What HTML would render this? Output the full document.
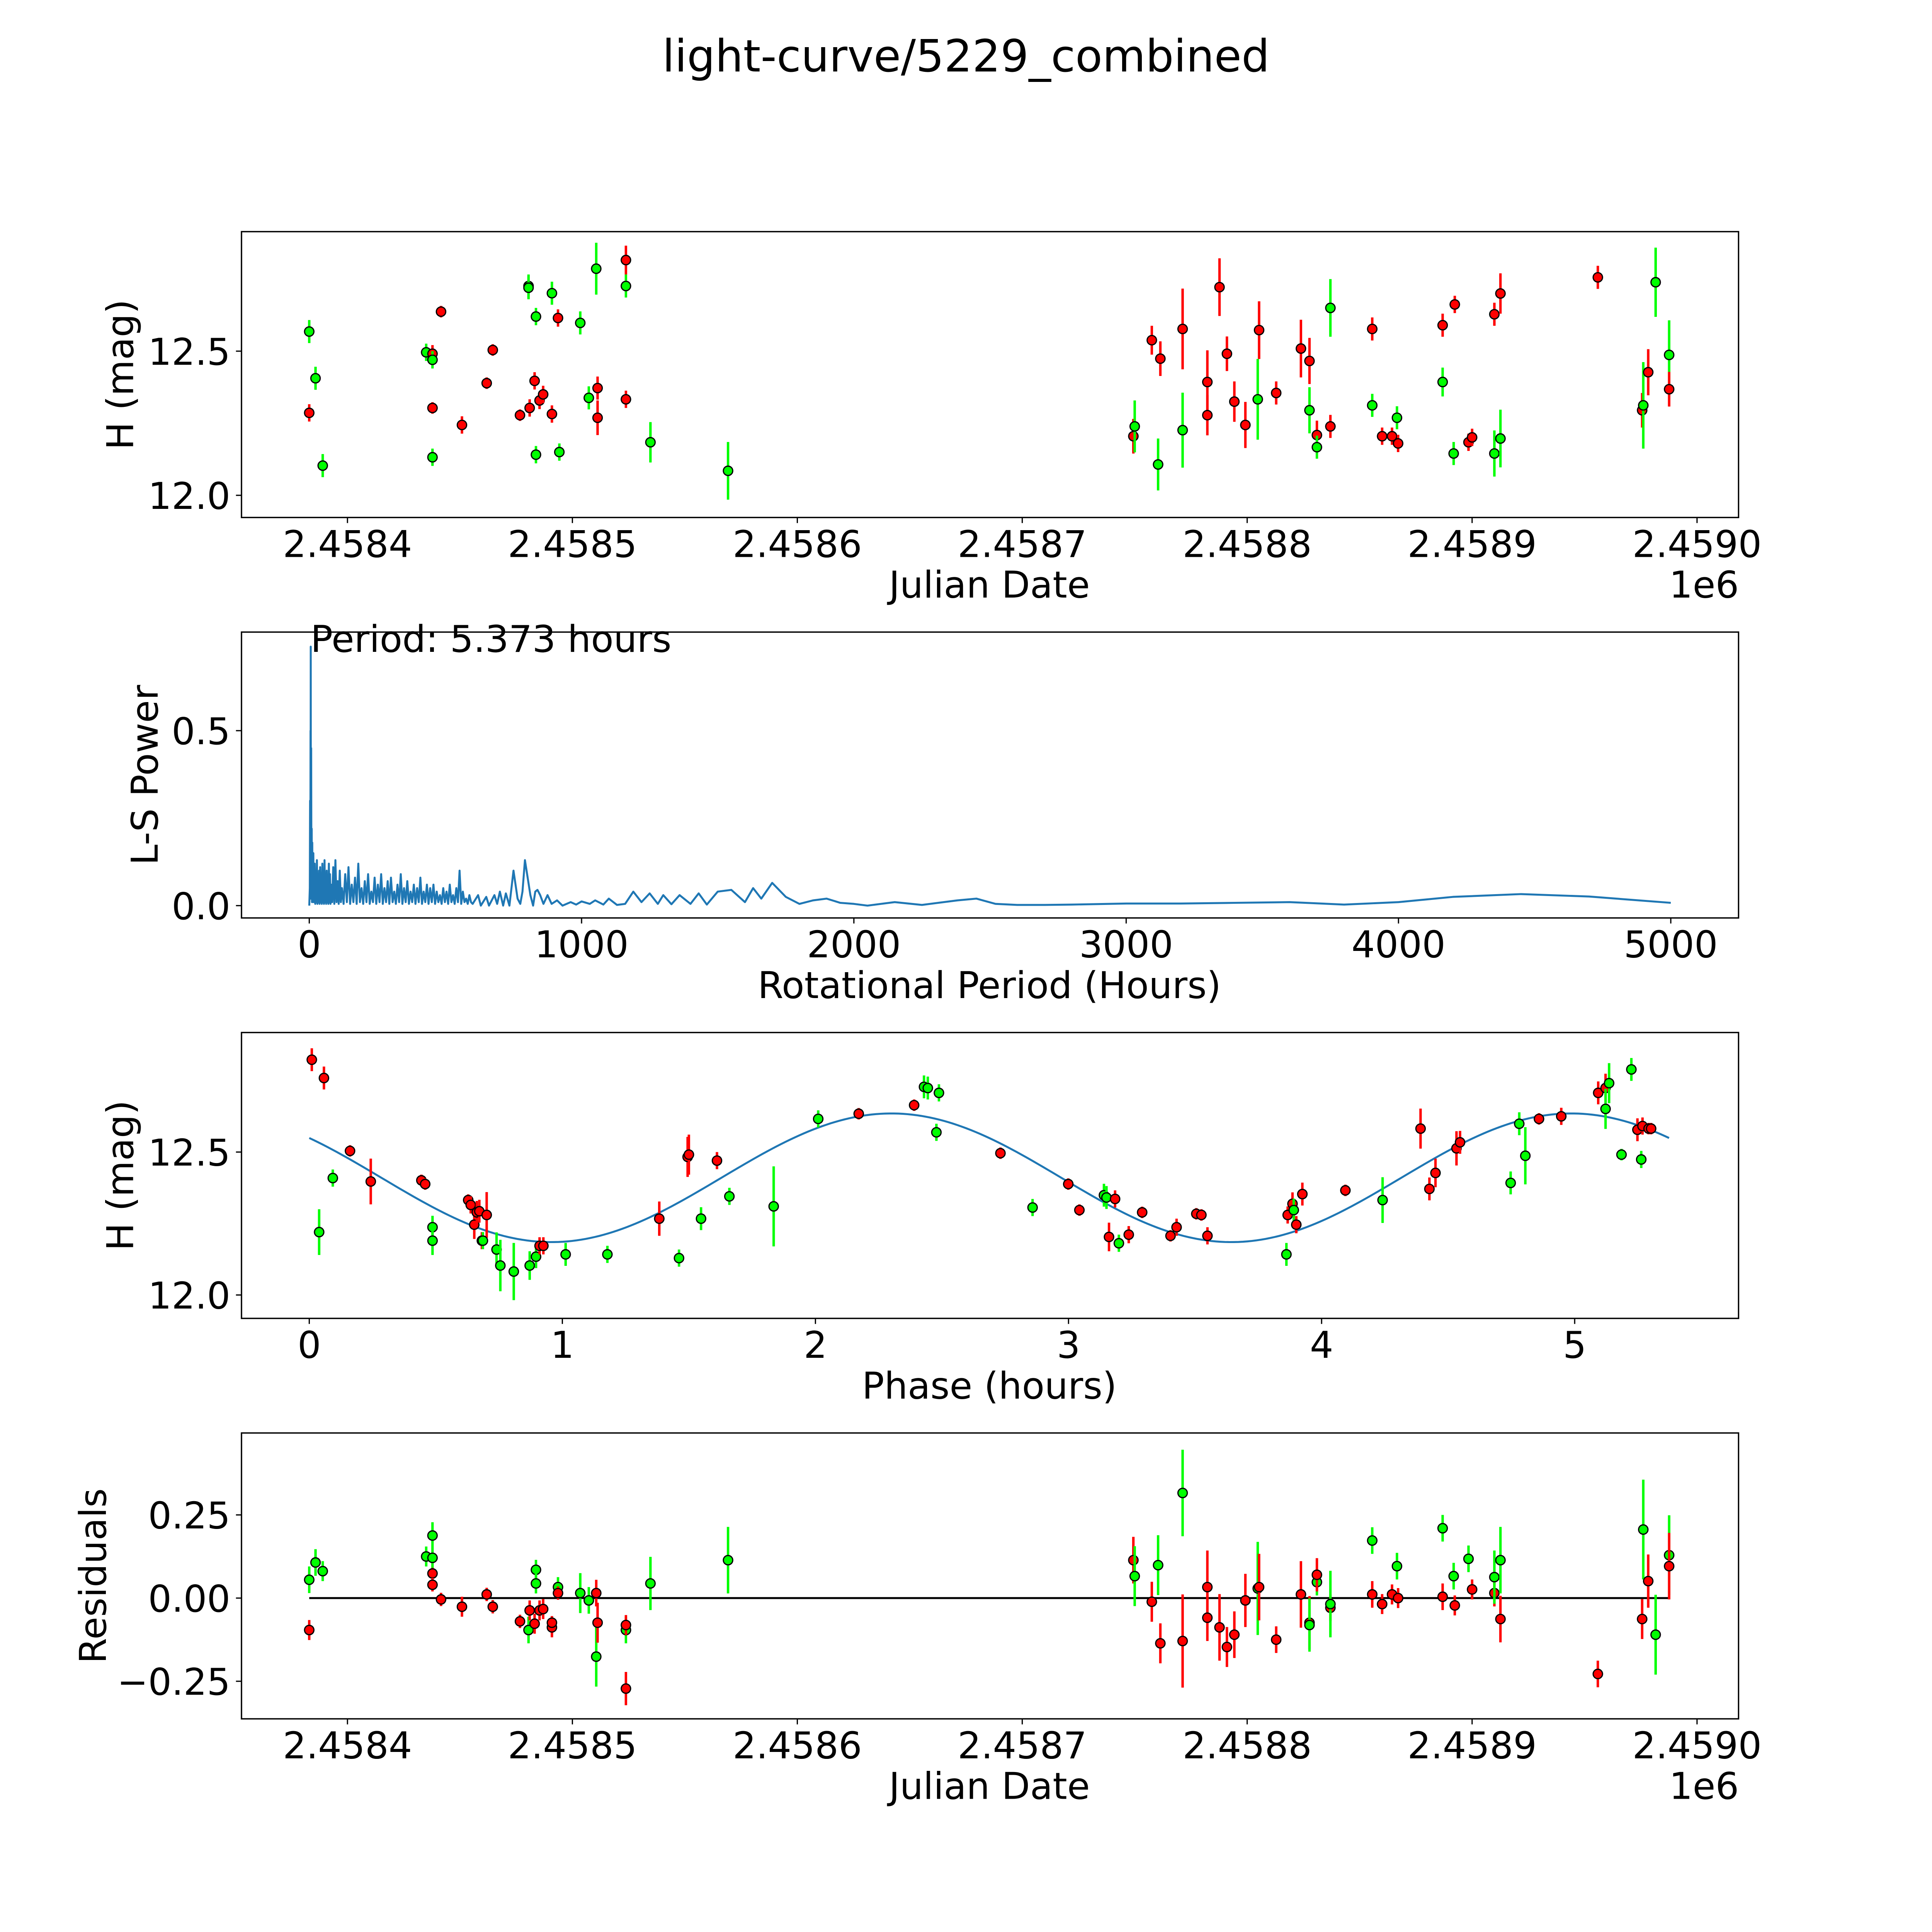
<!DOCTYPE html>
<html><head><meta charset="utf-8">
<style>
html,body{margin:0;padding:0;background:#fff;overflow:hidden;width:100%;height:100%;}
svg{display:block;position:absolute;left:0;top:0;width:100vw;height:100vh;}
text{font-family:"DejaVu Sans","Liberation Sans",sans-serif;fill:#000;}
</style></head>
<body>
<svg id="fig" viewBox="0 0 1568 1568" preserveAspectRatio="none" xmlns="http://www.w3.org/2000/svg">
<rect x="0" y="0" width="1568" height="1568" fill="#fff"/>
<text x="784" y="58" font-size="36" text-anchor="middle">light-curve/5229_combined</text>
</svg>
<script>
// ---------- Panel 1: light curve (JD - 2458400 in days) ----------
const lcDays=[-17,-17,-14.2,-11,35,37.8,37.8,37.8,37.8,41.6,50.9,61.9,64.6,76.7,80.5,80.5,81,83.2,83.8,83.8,85.4,87,90.9,90.9,93.6,94.2,103.5,107.3,110.6,111.2,111.2,123.8,123.8,123.8,134.7,169.2,349.4,350,357.6,360.4,361.4,371.3,371.3,382.3,382.3,387.7,391,394.3,399.2,404.7,405.3,412.9,423.9,427.7,427.7,431,431,437,437,455.6,455.6,460,464.4,466.6,467.1,486.9,486.9,491.8,492.3,498.4,500,509.9,509.9,512.6,512.6,555.9,575.6,576.1,578.3,581.6,587.6,587.6];
const lcMag=[12.568,12.286,12.406,12.103,12.496,12.303,12.491,12.47,12.132,12.637,12.244,12.389,12.504,12.278,12.726,12.72,12.303,12.397,12.62,12.141,12.329,12.35,12.701,12.282,12.615,12.15,12.598,12.338,12.786,12.372,12.269,12.816,12.726,12.333,12.184,12.085,12.205,12.239,12.538,12.107,12.474,12.577,12.226,12.393,12.278,12.722,12.491,12.325,12.244,12.333,12.573,12.355,12.509,12.466,12.295,12.209,12.167,12.239,12.65,12.577,12.312,12.205,12.205,12.269,12.18,12.59,12.393,12.145,12.662,12.184,12.201,12.628,12.145,12.7,12.197,12.756,12.295,12.312,12.427,12.739,12.487,12.368];
const lcErr=[0.04,0.03,0.04,0.04,0.03,0.02,0.03,0.03,0.03,0.02,0.03,0.02,0.02,0.02,0.04,0.04,0.03,0.03,0.03,0.03,0.03,0.03,0.04,0.03,0.03,0.03,0.04,0.04,0.09,0.04,0.06,0.05,0.04,0.03,0.07,0.1,0.06,0.09,0.05,0.09,0.06,0.14,0.13,0.11,0.07,0.1,0.06,0.07,0.08,0.14,0.1,0.04,0.1,0.08,0.08,0.05,0.04,0.04,0.1,0.04,0.04,0.03,0.03,0.04,0.03,0.04,0.05,0.04,0.03,0.03,0.03,0.04,0.08,0.07,0.1,0.04,0.06,0.15,0.08,0.12,0.12,0.06];
const lcBand=["g","r","g","g","g","r","r","g","g","r","r","r","r","r","g","g","r","r","g","g","r","r","g","r","r","g","g","g","g","r","r","r","g","r","g","g","r","g","r","g","r","r","g","r","r","r","r","r","r","g","r","r","r","r","g","r","g","r","g","r","g","r","r","g","r","r","g","g","r","r","r","r","g","r","g","r","r","g","r","g","g","r"];

// ---------- Panel 2: periodogram ----------
const lsPeriod=[0,2,3,4,4.6,5,5.373,5.8,6.5,7,8,9,10,11,12,13,14,15,16,17,18,20,22,24,26,28,30,32,34,36,38,40,42,44,46,48,50,52,54,56,58,60,62,64,66,68,70,72,74,76,78,80,84,88,92,96,100,104,108,112,116,120,126,132,138,144,150,156,162,168,174,180,186,192,198,204,210,216,222,228,234,240,246,252,258,264,270,276,282,288,294,300,306,312,318,324,330,336,342,348,354,360,366,372,378,384,390,396,402,408,414,420,426,432,438,444,450,456,462,468,474,480,486,492,498,504,510,516,522,528,534,540,546,552,558,564,570,576,582,588,594,600,620,630,650,660,680,690,700,712,722,735,750,765,775,783,792,800,812,822,830,838,848,860,875,890,910,930,960,980,1000,1030,1050,1080,1100,1130,1160,1190,1220,1250,1280,1300,1330,1360,1400,1430,1460,1500,1550,1600,1630,1660,1700,1750,1800,1850,1900,1950,2000,2050,2150,2250,2380,2450,2520,2600,2700,2800,3000,3200,3400,3600,3800,4000,4200,4450,4700,5000];
const lsPower=[0,0.05,0.3,0.02,0.5,0.1,0.74,0.2,0.02,0.45,0.03,0.22,0.01,0.18,0.02,0.12,0.01,0.15,0.02,0.1,0.01,0.12,0.005,0.09,0.01,0.13,0.005,0.07,0.01,0.1,0.005,0.11,0.01,0.06,0.005,0.12,0.01,0.08,0.005,0.13,0.01,0.07,0.005,0.1,0.01,0.05,0.005,0.12,0.01,0.09,0.005,0.06,0.01,0.11,0.005,0.13,0.01,0.07,0.005,0.1,0.01,0.05,0.005,0.09,0.01,0.11,0.005,0.06,0.01,0.08,0.005,0.12,0.01,0.05,0.005,0.07,0.01,0.09,0.005,0.04,0.01,0.08,0.005,0.06,0.01,0.09,0.005,0.05,0.01,0.07,0.005,0.08,0.01,0.04,0.005,0.06,0.01,0.09,0.005,0.05,0.01,0.07,0.005,0.04,0.01,0.06,0.005,0.05,0.01,0.08,0.005,0.04,0.01,0.06,0.005,0.05,0.01,0.06,0.005,0.04,0.01,0.03,0.005,0.05,0.01,0.04,0.005,0.06,0.01,0.03,0.005,0.05,0.01,0.1,0.005,0.04,0.01,0.02,0.005,0.03,0.01,0.005,0.03,0,0.025,0,0.03,0.005,0.04,0,0.035,0,0.1,0.02,0.005,0.04,0.13,0.09,0.03,0.0,0.04,0.045,0.03,0.005,0.03,0.005,0.015,0,0.01,0.003,0.012,0.005,0.015,0.003,0.02,0.002,0.005,0.04,0.01,0.035,0.005,0.03,0.004,0.03,0.005,0.035,0.003,0.04,0.045,0.01,0.05,0.02,0.065,0.025,0.005,0.015,0.02,0.008,0.005,0.0,0.01,0.002,0.015,0.02,0.005,0.002,0.002,0.003,0.006,0.006,0.008,0.01,0.003,0.01,0.025,0.033,0.026,0.008];
const lsPeakText="Period: 5.373 hours";

// ---------- Panel 3: phased light curve ----------
const phHours=[0.01,0.058,0.039,0.093,0.161,0.243,0.443,0.458,0.487,0.487,0.628,0.638,0.652,0.662,0.672,0.682,0.701,0.686,0.74,0.755,0.808,0.871,0.896,0.91,0.925,1.013,1.178,1.383,1.461,1.495,1.5,1.548,1.611,1.66,1.835,2.011,2.171,2.39,2.429,2.444,2.488,2.478,2.731,2.858,2.999,3.043,3.14,3.15,3.16,3.184,3.199,3.238,3.291,3.403,3.427,3.505,3.525,3.549,3.861,3.866,3.885,3.89,3.9,3.924,4.094,4.241,4.391,4.426,4.45,4.533,4.547,4.747,4.781,4.805,4.859,4.947,5.093,5.122,5.122,5.136,5.185,5.224,5.248,5.263,5.268,5.292,5.302];
const phMag=[12.823,12.759,12.22,12.409,12.504,12.397,12.401,12.388,12.237,12.19,12.332,12.315,12.246,12.289,12.293,12.19,12.28,12.19,12.159,12.103,12.082,12.103,12.134,12.172,12.172,12.142,12.142,12.267,12.129,12.483,12.491,12.267,12.47,12.345,12.31,12.616,12.634,12.664,12.728,12.724,12.707,12.569,12.496,12.306,12.388,12.297,12.349,12.341,12.203,12.336,12.181,12.211,12.289,12.207,12.237,12.284,12.28,12.207,12.142,12.28,12.319,12.297,12.246,12.353,12.366,12.332,12.582,12.371,12.427,12.513,12.534,12.392,12.599,12.487,12.616,12.625,12.707,12.724,12.651,12.741,12.491,12.789,12.578,12.474,12.591,12.582,12.582];
const phErr=[0.04,0.04,0.08,0.03,0.02,0.08,0.02,0.02,0.04,0.05,0.02,0.03,0.05,0.04,0.04,0.03,0.08,0.03,0.06,0.09,0.1,0.05,0.04,0.03,0.03,0.04,0.03,0.06,0.03,0.07,0.07,0.04,0.03,0.03,0.14,0.03,0.02,0.02,0.04,0.04,0.03,0.03,0.02,0.03,0.02,0.02,0.04,0.04,0.05,0.03,0.03,0.03,0.02,0.02,0.03,0.02,0.02,0.03,0.04,0.03,0.04,0.04,0.03,0.04,0.02,0.08,0.07,0.04,0.05,0.06,0.04,0.04,0.04,0.1,0.02,0.03,0.04,0.05,0.07,0.07,0.02,0.04,0.04,0.03,0.03,0.02,0.02];
const phBand=["r","r","g","g","r","r","r","r","g","g","r","r","r","r","r","r","r","g","g","g","g","g","g","r","r","g","g","r","g","r","r","g","r","g","g","g","r","r","g","g","g","g","r","g","r","r","g","g","r","r","g","r","r","r","r","r","r","r","g","r","r","g","r","r","r","g","r","r","r","r","r","g","g","g","r","r","r","r","g","g","g","g","r","g","r","r","r"];
// fitted model: mean, amplitude, phase of max (h), model period (h)
const fitParams=[12.41,0.225,2.3,2.6865];
const fitRange=[0,5.373];

// ---------- Panel 4: residuals ----------
const resDays=[-17,-17,-14.2,-11,35,37.8,37.8,37.8,37.8,41.6,50.9,61.9,64.6,76.7,80.5,81,83.8,83.8,83.2,85.4,87,90.9,90.9,93.6,93.6,103.5,107.3,110.6,110.6,111.2,123.8,123.8,123.8,134.7,169.2,349.4,350,357.6,360.4,361.4,371.3,371.3,382.3,382.3,387.7,391,394.3,399.2,404.7,405.3,412.9,423.9,427.7,427.7,431,431,437,437,455.6,455.6,460,464.4,467.1,466.6,486.9,486.9,492.3,491.8,500,498.4,509.9,509.9,512.6,512.6,555.9,575.6,576.1,578.3,581.6,587.6,587.6];
const resVal=[-0.096,0.055,0.107,0.081,0.125,0.188,0.074,0.04,0.121,-0.004,-0.026,0.011,-0.026,-0.07,-0.096,-0.037,0.085,0.044,-0.077,-0.037,-0.033,-0.088,-0.074,0.033,0.015,0.015,-0.007,0.015,-0.176,-0.074,-0.272,-0.096,-0.081,0.044,0.114,0.114,0.066,-0.011,0.099,-0.136,-0.129,0.316,0.033,-0.059,-0.088,-0.147,-0.11,-0.007,0.029,0.033,-0.125,0.011,-0.074,-0.081,0.048,0.07,-0.029,-0.018,0.011,0.173,-0.018,0.011,0,0.096,0.004,0.21,-0.022,0.066,0.026,0.118,0.015,0.063,-0.063,0.114,-0.228,-0.063,0.206,0.051,-0.11,0.129,0.096];
const resErr=[0.03,0.04,0.04,0.03,0.03,0.04,0.03,0.02,0.03,0.02,0.03,0.02,0.02,0.02,0.04,0.03,0.03,0.03,0.03,0.03,0.03,0.03,0.02,0.03,0.02,0.06,0.04,0.04,0.09,0.06,0.05,0.04,0.03,0.08,0.1,0.07,0.09,0.06,0.09,0.06,0.14,0.13,0.11,0.07,0.1,0.06,0.07,0.08,0.14,0.1,0.04,0.1,0.08,0.08,0.04,0.05,0.04,0.1,0.04,0.04,0.03,0.03,0.03,0.04,0.04,0.04,0.03,0.04,0.03,0.04,0.04,0.08,0.07,0.1,0.04,0.06,0.15,0.08,0.12,0.12,0.1];
const resBand=["r","g","g","g","g","g","r","r","g","r","r","r","r","r","g","r","g","g","r","r","r","r","r","g","r","g","g","r","g","r","r","g","r","g","g","r","g","r","g","r","r","g","r","r","r","r","r","r","g","r","r","r","r","g","g","r","r","g","r","g","r","r","r","g","r","g","r","g","r","g","r","g","r","g","r","r","g","r","g","g","r"];

// ---------- Tick labels ----------
const jdTicks=[0,100,200,300,400,500,600];
const jdTickLabels=["2.4584","2.4585","2.4586","2.4587","2.4588","2.4589","2.4590"];
const magTicks=[12.0,12.5];
const magTickLabels=["12.0","12.5"];
const lsXTicks=[0,1000,2000,3000,4000,5000];
const lsXTickLabels=["0","1000","2000","3000","4000","5000"];
const lsYTicks=[0,0.5];
const lsYTickLabels=["0.0","0.5"];
const phTicks=[0,1,2,3,4,5];
const phTickLabels=["0","1","2","3","4","5"];
const resTicks=[-0.25,0,0.25];
const resTickLabels=["\u22120.25","0.00","0.25"];

// ---------- Drawing ----------
const NS="http://www.w3.org/2000/svg";
const svg=document.getElementById('fig');
const COL={g:"#00ff00",r:"#ff0000"};
const FS=30;
function mk(tag,attrs,parent){const e=document.createElementNS(NS,tag);for(const k in attrs)e.setAttribute(k,attrs[k]);(parent||svg).appendChild(e);return e;}

const P1={x0:196,x1:1411,y0:188,y1:420};
const P2={x0:196,x1:1411,y0:513,y1:745};
const P3={x0:196,x1:1411,y0:838,y1:1070};
const P4={x0:196,x1:1411,y0:1163,y1:1395};
const jdX=d=>282+d*1.8255;
const magY1=m=>402-(m-12)*234;
const lsX=p=>251+p*0.221;
const lsY=v=>735-v*284;
const phX=h=>251+h*205.4;
const magY3=m=>1051-(m-12)*232;
const resY=v=>1297-v*270;

function frame(P,name){
  const r=mk('rect',{x:P.x0,y:P.y0,width:P.x1-P.x0,height:P.y1-P.y0,fill:'none',stroke:'#000','stroke-width':1.1});
  
  
}
function xTicks(P,vals,labels,fx,name){
  const g=mk('g',{});
  
  
  vals.forEach((v,i)=>{const x=fx(v);
    mk('line',{x1:x,x2:x,y1:P.y1,y2:P.y1+4.5,stroke:'#000','stroke-width':1},g);
    const t=mk('text',{x:x,y:P.y1+32,'font-size':FS,'text-anchor':'middle'},g);
    t.textContent=labels[i];
    
    });
}
function yTicks(P,vals,labels,fy,name){
  const g=mk('g',{});
  
  
  vals.forEach((v,i)=>{const y=fy(v);
    mk('line',{x1:P.x0-4.5,x2:P.x0,y1:y,y2:y,stroke:'#000','stroke-width':1},g);
    const t=mk('text',{x:P.x0-9,y:y+11,'font-size':FS,'text-anchor':'end'},g);
    t.textContent=labels[i];
    
    });
}
function label(txt,x,y,rot,name){
  const t=mk('text',{x:x,y:y,'font-size':FS,'text-anchor':'middle'});
  if(rot)t.setAttribute('transform','rotate(-90 '+x+' '+y+')');
  t.textContent=txt;
  
  
}
function points(xs,ys,es,bs,fx,fy,ey,name){
  const g=mk('g',{});
  
  
  xs.forEach((xv,i)=>{
    const x=fx(xv),y=fy(ys[i]),e=Math.abs(ey(ys[i]+es[i])-y);
    const l=mk('line',{x1:x,x2:x,y1:y-e,y2:y+e,stroke:COL[bs[i]],'stroke-width':2},g);
    
    
    const c=mk('circle',{cx:x,cy:y,r:3.8,fill:COL[bs[i]],stroke:'#000','stroke-width':1},g);
    
    
  });
}

// Panel 1
frame(P1,'lightcurve');
xTicks(P1,jdTicks,jdTickLabels,jdX,'lightcurve');
yTicks(P1,magTicks,magTickLabels,magY1,'lightcurve');
label('Julian Date',803,485,false,'lightcurve-x-axis-title');
label('H (mag)',108,304,true,'lightcurve-y-axis-title');
label('1e6',1383,485,false,'lightcurve-x-offset');
points(lcDays,lcMag,lcErr,lcBand,jdX,magY1,magY1,'lightcurve-points');

// Panel 2
frame(P2,'periodogram');
xTicks(P2,lsXTicks,lsXTickLabels,lsX,'periodogram');
yTicks(P2,lsYTicks,lsYTickLabels,lsY,'periodogram');
label('Rotational Period (Hours)',803,810,false,'periodogram-x-axis-title');
label('L-S Power',128,629,true,'periodogram-y-axis-title');
{
  let d='';
  lsPeriod.forEach((p,i)=>{d+=(i?'L':'M')+lsX(p).toFixed(2)+','+lsY(lsPower[i]).toFixed(2);});
  const pl=mk('path',{d:d,fill:'none',stroke:'#1f77b4','stroke-width':1.6,'stroke-linejoin':'round'});
  
  
  const t=mk('text',{x:252,y:529,'font-size':FS});
  t.textContent=lsPeakText;
  
  
}

// Panel 3
frame(P3,'phased');
xTicks(P3,phTicks,phTickLabels,phX,'phased');
yTicks(P3,magTicks,magTickLabels,magY3,'phased');
label('Phase (hours)',803,1135,false,'phased-x-axis-title');
label('H (mag)',108,954,true,'phased-y-axis-title');
{
  let d='';const N=300;
  for(let k=0;k<=N;k++){const h=fitRange[0]+(fitRange[1]-fitRange[0])*k/N;
    const m=fitParams[0]+fitParams[1]*Math.cos(2*Math.PI*(h-fitParams[2])/fitParams[3]);
    d+=(k?'L':'M')+phX(h).toFixed(2)+','+magY3(m).toFixed(2);}
  const pl=mk('path',{d:d,fill:'none',stroke:'#1f77b4','stroke-width':1.6});
  
  
}
points(phHours,phMag,phErr,phBand,phX,magY3,magY3,'phased-points');

// Panel 4
frame(P4,'residuals');
xTicks(P4,jdTicks,jdTickLabels,jdX,'residuals');
yTicks(P4,resTicks,resTickLabels,resY,'residuals');
label('Julian Date',803,1460,false,'residuals-x-axis-title');
label('1e6',1383,1460,false,'residuals-x-offset');
label('Residuals',86,1279,true,'residuals-y-axis-title');
{
  const z=mk('line',{x1:jdX(-17),x2:jdX(587.6),y1:resY(0),y2:resY(0),stroke:'#000','stroke-width':1.6});
  
  
}
points(resDays,resVal,resErr,resBand,jdX,resY,resY,'residual-points');
</script>
</body></html>
